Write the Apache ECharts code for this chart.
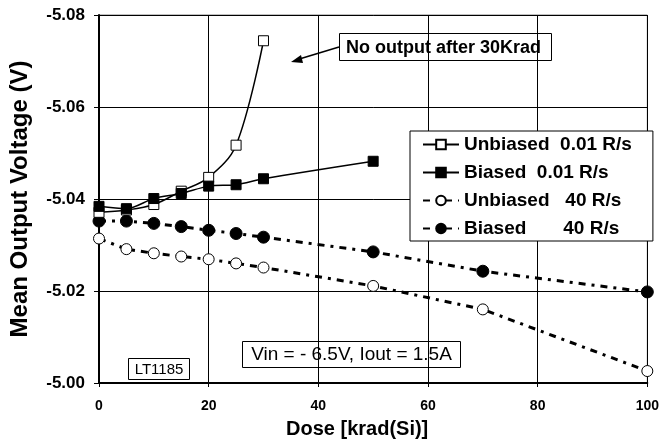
<!DOCTYPE html>
<html>
<head>
<meta charset="utf-8">
<script src="https://cdn.jsdelivr.net/npm/echarts@6/dist/echarts.min.js"></script>
<style>
  html, body { margin: 0; padding: 0; background: #fff; }
  #chart { width: 662px; height: 444px; }
</style>
</head>
<body>
<div id="chart"></div>
<script>
// dose points (krad)
const doseSlow = [0, 5, 10, 15, 20, 25, 30];
const doseSlowBiased = [0, 5, 10, 15, 20, 25, 30, 50];
const doseFast = [0, 5, 10, 15, 20, 25, 30, 50, 70, 100];

// mean output voltage (V)
const unbiasedSlow = [-5.0371, -5.0376, -5.0388, -5.0417, -5.0447, -5.0517, -5.0744];
const biasedSlow = [-5.0384, -5.0379, -5.0401, -5.0412, -5.0428, -5.0431, -5.0444, -5.0482];
const unbiasedFast = [-5.0314, -5.0291, -5.0282, -5.0275, -5.0269, -5.0260, -5.0251, -5.0211, -5.0160, -5.0026];
const biasedFast = [-5.0352, -5.0352, -5.0347, -5.0340, -5.0332, -5.0325, -5.0317, -5.0285, -5.0243, -5.0198];

const seriesNames = ["Unbiased  0.01 R/s", "Biased  0.01 R/s", "Unbiased   40 R/s", "Biased       40 R/s"];

const font = "Liberation Sans, Arial, sans-serif";
const zip = (xs, ys) => xs.map((x, i) => [x, ys[i]]);
const dashDot = [7, 6, 3, 6];

const chart = echarts.init(document.getElementById("chart"));

const option = {
  animation: false,
  grid: {
    left: 97, right: 12, top: 15, bottom: 60,
    show: true, borderColor: "#808080", borderWidth: 1
  },
  xAxis: {
    type: "value",
    min: 0, max: 100, interval: 20,
    name: "Dose [krad(Si)]",
    nameLocation: "middle",
    nameGap: 36,
    nameTextStyle: { fontFamily: font, fontWeight: "bold", fontSize: 20, color: "#000", padding: [0, 32, 0, 0] },
    axisLine: { lineStyle: { color: "#000", width: 2 } },
    axisTick: { show: true, length: 4, lineStyle: { color: "#000" } },
    axisLabel: { fontFamily: font, fontWeight: "bold", fontSize: 14, color: "#000", margin: 16 },
    splitLine: { lineStyle: { color: "#000", width: 1 } }
  },
  yAxis: {
    type: "value",
    inverse: true,
    min: -5.08, max: -5.00, interval: 0.02,
    name: "Mean Output Voltage (V)",
    nameLocation: "middle",
    nameGap: 67,
    nameTextStyle: { fontFamily: font, fontWeight: "bold", fontSize: 24, color: "#000" },
    axisLine: { lineStyle: { color: "#000", width: 2 } },
    axisTick: { show: true, length: 5, lineStyle: { color: "#000" } },
    axisLabel: {
      fontFamily: font, fontWeight: "bold", fontSize: 17, color: "#000", margin: 14,
      formatter: (v) => v.toFixed(2)
    },
    splitLine: { lineStyle: { color: "#000", width: 1 } }
  },
  legend: {
    orient: "vertical",
    left: 410, top: 131,
    padding: [4, 21, 3, 12],
    itemWidth: 36, itemHeight: 12, itemGap: 9,
    backgroundColor: "#fff",
    borderColor: "#000", borderWidth: 1,
    borderRadius: 0,
    data: seriesNames,
    textStyle: { fontFamily: font, fontWeight: "bold", fontSize: 19, color: "#000", lineHeight: 19 }
  },
  series: [
    {
      name: seriesNames[0],
      type: "line",
      data: zip(doseSlow, unbiasedSlow),
      smooth: 0.35,
      symbol: "rect", symbolSize: 10,
      itemStyle: { color: "#fff", borderColor: "#000", borderWidth: 1 },
      lineStyle: { color: "#000", width: 1.5 },
      z: 4
    },
    {
      name: seriesNames[1],
      type: "line",
      data: zip(doseSlowBiased, biasedSlow),
      smooth: 0.3,
      symbol: "rect", symbolSize: 10,
      itemStyle: { color: "#000", borderColor: "#000", borderWidth: 1 },
      lineStyle: { color: "#000", width: 1.5 },
      z: 5
    },
    {
      name: seriesNames[2],
      type: "line",
      data: zip(doseFast, unbiasedFast),
      symbol: "circle", symbolSize: 11,
      itemStyle: { color: "#fff", borderColor: "#000", borderWidth: 1 },
      lineStyle: { color: "#000", width: 3, type: dashDot },
      z: 3
    },
    {
      name: seriesNames[3],
      type: "line",
      data: zip(doseFast, biasedFast),
      symbol: "circle", symbolSize: 12,
      itemStyle: { color: "#000", borderColor: "#000", borderWidth: 1 },
      lineStyle: { color: "#000", width: 3, type: dashDot },
      z: 3
    }
  ],
  graphic: [
    // "No output" note with arrow
    {
      type: "group", z: 100,
      children: [
        { type: "rect", shape: { x: 339.5, y: 33.5, width: 212, height: 27 },
          style: { fill: "#fff", stroke: "#000", lineWidth: 1 } },
        { type: "text", x: 346, y: 48,
          style: { text: "No output after 30Krad", font: "bold 18px " + font, fill: "#000", verticalAlign: "middle" } },
        { type: "line", shape: { x1: 339, y1: 47, x2: 296, y2: 60 },
          style: { stroke: "#000", lineWidth: 1.5 } },
        { type: "polygon", shape: { points: [[291, 62], [301, 55], [303, 63]] },
          style: { fill: "#000" } }
      ]
    },
    {
      type: "group", z: 100,
      children: [
        { type: "rect", shape: { x: 128.5, y: 358.5, width: 61, height: 21 },
          style: { fill: "#fff", stroke: "#000", lineWidth: 1 } },
        { type: "text", x: 159, y: 369.5,
          style: { text: "LT1185", font: "15px " + font, fill: "#000", align: "center", verticalAlign: "middle" } }
      ]
    },
    {
      type: "group", z: 100,
      children: [
        { type: "rect", shape: { x: 242.5, y: 341.5, width: 218, height: 26 },
          style: { fill: "#fff", stroke: "#000", lineWidth: 1 } },
        { type: "text", x: 351.5, y: 355,
          style: { text: "Vin = - 6.5V, Iout = 1.5A", font: "19px " + font, fill: "#000", align: "center", verticalAlign: "middle" } }
      ]
    }
  ]
};

chart.setOption(option);
</script>
</body>
</html>
